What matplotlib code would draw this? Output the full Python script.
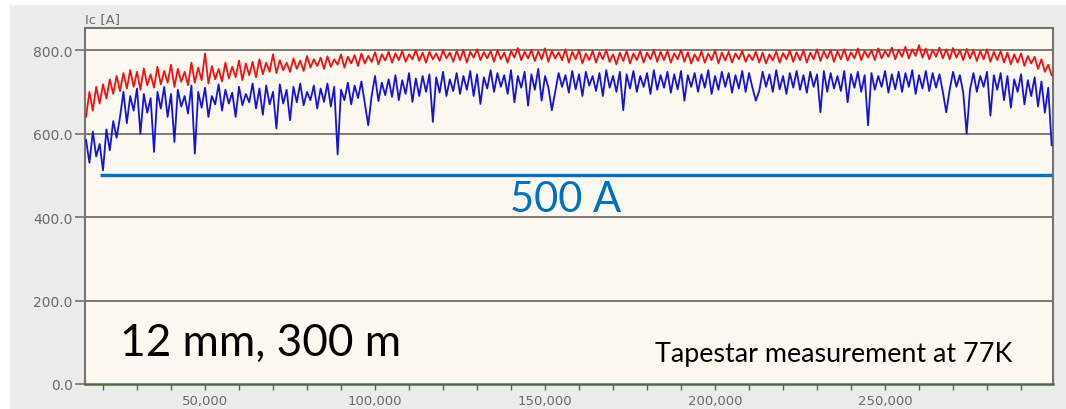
import numpy as np
import matplotlib
matplotlib.use("Agg")
import matplotlib.pyplot as plt
from matplotlib.patches import Rectangle
from matplotlib.ticker import FixedLocator, FuncFormatter

# ---------------- data ----------------
x_start_m = 15000      # first sample position [m]
x_step_m = 1000        # sample spacing [m]

ic_red = [
    640, 700, 655, 712, 672, 718, 684, 730, 695, 738,
    702, 745, 708, 752, 712, 748, 705, 756, 716, 742,
    710, 760, 718, 750, 722, 765, 712, 755, 724, 748,
    716, 770, 722, 758, 728, 792, 720, 762, 730, 755,
    725, 770, 732, 760, 735, 775, 728, 768, 740, 772,
    735, 778, 742, 770, 748, 790, 745, 776, 752, 770,
    748, 780, 755, 775, 750, 786, 758, 778, 762, 782,
    755, 785, 760, 778, 765, 790, 758, 784, 768, 788,
    762, 792, 768, 786, 772, 795, 766, 790, 775, 796,
    770, 792, 776, 798, 772, 790, 778, 800, 774, 794,
    770, 796, 778, 792, 774, 800, 780, 794, 772, 798,
    776, 800, 770, 796, 782, 802, 776, 795, 780, 798,
    772, 800, 778, 794, 770, 798, 782, 805, 776, 796,
    780, 800, 774, 797, 778, 804, 772, 798, 780, 795,
    776, 802, 770, 796, 778, 800, 768, 792, 776, 798,
    770, 795, 778, 800, 772, 790, 766, 794, 774, 798,
    768, 792, 776, 798, 770, 794, 778, 800, 772, 796,
    776, 798, 770, 792, 778, 800, 772, 795, 768, 790,
    774, 797, 770, 792, 776, 800, 768, 794, 775, 796,
    770, 792, 778, 798, 772, 790, 776, 796, 770, 794,
    768, 790, 775, 797, 770, 793, 778, 799, 772, 795,
    776, 800, 770, 794, 778, 802, 774, 797, 780, 800,
    772, 798, 778, 802, 775, 795, 780, 804, 776, 798,
    782, 800, 776, 804, 780, 798, 784, 806, 778, 800,
    784, 808, 780, 802, 786, 812, 782, 804, 778, 800,
    784, 806, 780, 802, 778, 805, 782, 800, 776, 803,
    780, 800, 774, 798, 778, 802, 772, 796, 776, 798,
    770, 794, 766, 790, 770, 792, 762, 786, 768, 784,
    755, 778, 748, 765, 740,
]

ic_blue = [
    585, 530, 605, 545, 575, 512, 610, 560, 630, 590,
    640, 700, 625, 690, 655, 708, 600, 695, 650, 685,
    556, 700, 660, 712, 640, 695, 580, 705, 665, 690,
    648, 715, 552, 700, 662, 710, 640, 690, 670, 718,
    655, 705, 672, 698, 640, 712, 668, 695, 675, 720,
    660, 708, 645, 715, 670, 700, 612, 718, 672, 705,
    632, 712, 675, 720, 668, 700, 680, 715, 660, 708,
    676, 720, 665, 712, 550, 705, 680, 722, 670, 715,
    685, 725, 672, 620, 690, 738, 678, 722, 692, 730,
    688, 740, 680, 728, 695, 745, 676, 732, 690, 738,
    700, 742, 628, 735, 698, 748, 690, 730, 702, 745,
    695, 738, 705, 750, 690, 742, 671, 735, 708, 752,
    700, 745, 712, 740, 695, 752, 675, 738, 710, 748,
    667, 742, 705, 755, 679, 738, 710, 656, 700, 745,
    712, 740, 698, 750, 706, 742, 690, 748, 715, 738,
    702, 745, 690, 752, 710, 738, 700, 748, 656, 742,
    708, 750, 700, 738, 712, 745, 695, 752, 705, 740,
    710, 748, 698, 742, 706, 750, 679, 740, 712, 745,
    700, 742, 710, 752, 695, 738, 705, 748, 712, 745,
    698, 740, 708, 750, 700, 745, 710, 679, 702, 748,
    712, 742, 700, 752, 706, 738, 695, 745, 710, 750,
    705, 740, 698, 748, 712, 742, 651, 750, 700, 745,
    708, 738, 702, 750, 675, 742, 710, 748, 700, 740,
    620, 745, 705, 738, 712, 750, 698, 742, 706, 748,
    700, 745, 712, 752, 695, 740, 708, 750, 702, 745,
    710, 742, 700, 651, 705, 748, 712, 740, 698, 600,
    706, 745, 700, 738, 712, 748, 643, 740, 705, 745,
    680, 738, 662, 730, 700, 742, 670, 728, 690, 735,
    665, 725, 650, 710, 572,
]

threshold_A = 500
threshold_span_m = [19000, 299000]
y_ticks = [0, 200, 400, 600, 800]
x_major = [50000, 100000, 150000, 200000, 250000]
x_minor = [20000, 30000, 40000, 60000, 70000, 80000, 90000, 110000, 120000,
           130000, 140000, 160000, 170000, 180000, 190000, 210000, 220000,
           230000, 240000, 260000, 270000, 280000, 290000]

# ---------------- figure ----------------
W, H = 1066, 410
fig = plt.figure(figsize=(W / 100, H / 100), dpi=100, facecolor="white")
fig.patches.append(Rectangle((10 / W, 0), 1 - 10 / W, 1 - 6 / H,
                             transform=fig.transFigure, facecolor="#ececec",
                             edgecolor="none", zorder=-10))

ax = fig.add_axes([85 / W, 25 / H, (1053 - 85) / W, (385 - 29) / H])
ax.set_facecolor("#fdf9f1")

x = x_start_m + x_step_m * np.arange(len(ic_red))
ax.plot(x, ic_red, color="#f01212", lw=1.3, zorder=3)
ax.plot(x, ic_blue, color="#1414d8", lw=1.3, zorder=4)

ax.plot(threshold_span_m, [threshold_A, threshold_A], color="#0070c0",
        lw=2.4, solid_capstyle="butt", zorder=5)

ax.set_xlim(14700, 299400)
ax.set_ylim(0, 853)

grid_c = "#7d7872"
for yv in y_ticks[1:]:
    ax.axhline(yv, color=grid_c, lw=1.4, zorder=2)

for side in ["top", "right", "left"]:
    ax.spines[side].set_color("#77736e")
    ax.spines[side].set_linewidth(1.5)
ax.spines["bottom"].set_color("#4e6a44")
ax.spines["bottom"].set_linewidth(1.8)

ax.yaxis.set_major_locator(FixedLocator(y_ticks))
ax.yaxis.set_major_formatter(FuncFormatter(lambda v, p: f"{v:.1f}"))
ax.tick_params(axis="y", length=7, width=1.2, color="#77736e", pad=2,
               labelsize=10, labelcolor="#6a6a6a")

ax.xaxis.set_major_locator(FixedLocator(x_major))
ax.xaxis.set_minor_locator(FixedLocator(x_minor))
ax.xaxis.set_major_formatter(FuncFormatter(lambda v, p: f"{int(v):,}"))
ax.tick_params(axis="x", which="both", length=4, width=1.0, color="#4e6a44",
               pad=3, labelsize=9.5, labelcolor="#6a6a6a")

ax.text(0.0, 1.008, "Ic [A]", transform=ax.transAxes, ha="left", va="bottom",
        fontsize=9.5, color="#6a6a6a")

ax.text(155900, 414, "500 A", ha="center", va="baseline", fontsize=30,
        family="Lato", color="#0070c0", zorder=6)
ax.text(25000, 69, "12 mm, 300 m", ha="left", va="baseline", fontsize=31.8,
        family="Lato", color="black", zorder=6)
ax.text(182300, 55, "Tapestar measurement at 77K", ha="left", va="baseline",
        fontsize=19.4, family="Lato", color="black", zorder=6)

fig.savefig("out.png", dpi=100, facecolor=fig.get_facecolor())
